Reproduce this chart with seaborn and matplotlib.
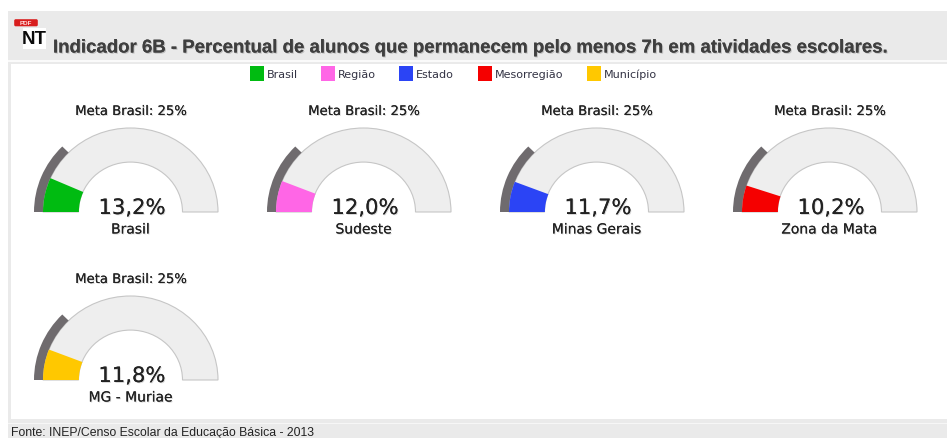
import matplotlib
matplotlib.use("Agg")
import matplotlib.pyplot as plt
import matplotlib.patheffects as pe
from matplotlib.patches import Wedge, Rectangle, FancyBboxPatch
from matplotlib.transforms import Affine2D
import pandas as pd
import seaborn as sns

sns.set_theme(style="white")
plt.rcParams["font.family"] = ["DejaVu Sans"]

# ---- data ----
regions = ["Brasil", "Sudeste", "Minas Gerais", "Zona da Mata", "MG - Muriae"]
values = [13.2, 12.0, 11.7, 10.2, 11.8]
value_labels = ["13,2%", "12,0%", "11,7%", "10,2%", "11,8%"]
gauge_colors = ["#00bb11", "#ff66e6", "#2b44f5", "#f50000", "#ffc800"]
meta = 25
legend_labels = ["Brasil", "Região", "Estado", "Mesorregião", "Município"]
legend_swatch_x = [257, 328, 406, 485, 594]
title = "Indicador 6B - Percentual de alunos que permanecem pelo menos 7h em atividades escolares."
footer = "Fonte: INEP/Censo Escolar da Educação Básica - 2013"

# ---- layout ----
W, H = 947, 439
COL_X = [130.5, 363.5, 596.5, 829.5, 130.5]
BASE_Y = [213, 213, 213, 213, 381]
R_OUT, R_IN, R_META = 87.5, 52, 96.5
SQUASH = 0.96
DEG_PER_PCT = 1.8
TEXT = "#222222"

fig = plt.figure(figsize=(W / 100, H / 100), dpi=100, facecolor="white")
ax = fig.add_axes([0, 0, 1, 1])
ax.set_xlim(0, W)
ax.set_ylim(H, 0)
ax.axis("off")


def shadow(alpha=0.15, off=(0.7, -0.7)):
    return [pe.withSimplePatchShadow(offset=off, shadow_rgbFace="#000000", alpha=alpha), pe.Normal()]


# page panels
ax.add_patch(Rectangle((8, 12), W - 8, H - 12, fc="#eaeaea", ec="none", zorder=0))
ax.add_patch(Rectangle((8, 61), W - 8, 2, fc="#fafafa", ec="none", zorder=0.5))
ax.add_patch(Rectangle((11, 65), W - 11, 355, fc="white", ec="none", zorder=1))
ax.add_patch(Rectangle((8, 424), W - 8, 1.5, fc="#f6f6f6", ec="none", zorder=1))

# NT icon
ax.add_patch(Rectangle((22.5, 29), 23, 21, fc="white", ec="none", zorder=2))
ax.text(34, 39, "NT", ha="center", va="center", fontsize=13.5, fontweight="bold",
        family="Liberation Sans", color="#0a0a0a", zorder=3)
ax.add_patch(FancyBboxPatch((15, 21), 22, 5.5, boxstyle="round,pad=0.8,rounding_size=1.5",
                            fc="#d81e1e", ec="none", zorder=3))
ax.text(26, 23.8, "PDF", ha="center", va="center", fontsize=4.5, fontweight="bold",
        family="Liberation Sans", color="#ffdddd", zorder=4)

# title and footer
ax.text(53, 53.5, title, ha="left", va="baseline", fontsize=13.4, fontweight="bold",
        family="Liberation Sans", color="#3f3f3f", zorder=3, path_effects=shadow(0.18, (0.8, -0.8)))
ax.text(11, 436, footer, ha="left", va="baseline", fontsize=8.8,
        family="Liberation Sans", color="#222222", zorder=3)

# legend swatches through seaborn
legend_df = pd.DataFrame({"x": legend_swatch_x, "y": [74.5] * 5, "label": legend_labels})
sns.scatterplot(data=legend_df, x="x", y="y", hue="label", hue_order=legend_labels,
                palette=gauge_colors, marker="s", s=105, linewidth=0, legend=False,
                ax=ax, zorder=4)
ax.set_xlim(0, W)
ax.set_ylim(H, 0)
ax.axis("off")
for x, lab in zip(legend_swatch_x, legend_labels):
    ax.text(x + 9.5, 75, lab, ha="left", va="center", fontsize=8.0, color="#333344", zorder=4)


def wedge(cx, cy, r_out, r_in, v0, v1, **kw):
    t = Affine2D().scale(1, SQUASH).translate(cx, cy) + ax.transData
    p = Wedge((0, 0), r_out, 180 + v0 * DEG_PER_PCT, 180 + v1 * DEG_PER_PCT,
              width=r_out - r_in, transform=t, **kw)
    ax.add_patch(p)


for name, val, lab, col, cx, cy in zip(regions, values, value_labels, gauge_colors, COL_X, BASE_Y):
    wedge(cx, cy, R_OUT, R_IN, 0, 100, fc="#eeeeee", ec="#c6c6c6", lw=0.8, zorder=3)
    wedge(cx, cy, R_META, R_OUT, 0, meta, fc="#6f6b6e", ec="none", zorder=4)
    wedge(cx, cy, R_OUT, R_IN - 0.4, 0, val, fc=col, ec="none", zorder=5)
    ax.text(cx + 1, cy - 100.5, f"Meta Brasil: {meta}%", ha="center", va="center", fontsize=9.5,
            color=TEXT, zorder=6, path_effects=shadow())
    ax.text(cx + 1.5, cy - 4, lab, ha="center", va="center", fontsize=15.2,
            color=TEXT, zorder=6, path_effects=shadow())
    ax.text(cx, cy + 17.5, name, ha="center", va="center", fontsize=10,
            color=TEXT, zorder=6, path_effects=shadow())

fig.savefig("out.png", dpi=100, facecolor="white")
